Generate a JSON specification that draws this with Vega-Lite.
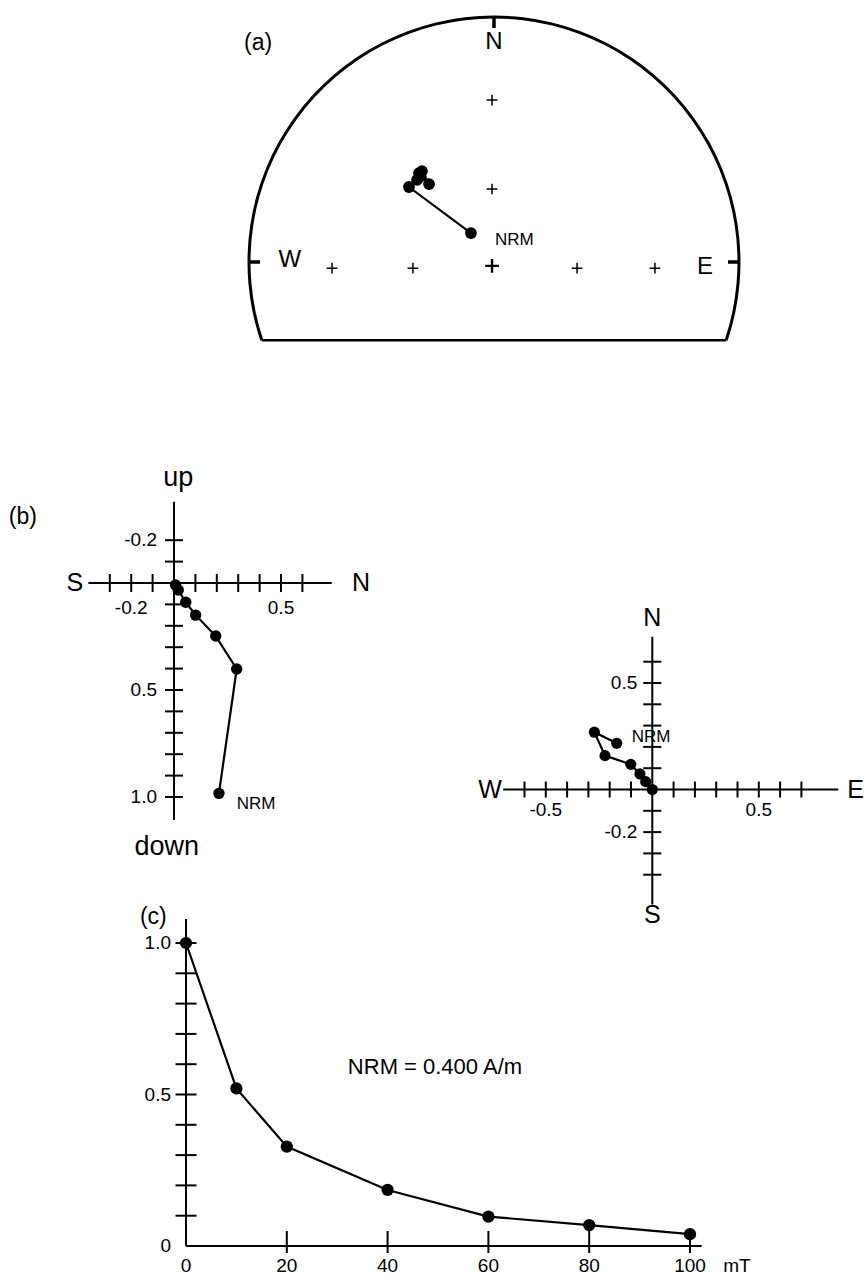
{
  "$schema": "https://vega.github.io/schema/vega-lite/v6.json",
  "width": 866,
  "height": 1277,
  "autosize": {"type": "fit", "contains": "padding"},
  "padding": 0,
  "background": "white",
  "config": {
    "view": {"stroke": null},
    "text": {"font": "Liberation Sans", "color": "black", "baseline": "middle"},
    "line": {"color": "black", "strokeWidth": 2.2},
    "rule": {"color": "black", "strokeWidth": 2}
  },
  "datasets": {
    "stereo_circle": [{"x": 0, "y": 0}],
    "stereo_chord": [{"x": -0.948, "y": -0.319, "x_end": 0.948, "y_end": -0.319}],
    "stereo_marks": [
      {"x": 0, "y": 1.0, "x_end": 0, "y_end": 0.955},
      {"x": -1.0, "y": 0, "x_end": -0.955, "y_end": 0},
      {"x": 1.0, "y": 0, "x_end": 0.955, "y_end": 0}
    ],
    "stereo_grid": [
      {"x": -0.008, "y": 0.661},
      {"x": -0.008, "y": 0.298},
      {"x": -0.661, "y": -0.025},
      {"x": -0.331, "y": -0.025},
      {"x": 0.339, "y": -0.025},
      {"x": 0.657, "y": -0.025}
    ],
    "stereo_centre": [{"x": -0.008, "y": -0.016}],
    "stereo_path": [
      {"step": 0, "x": -0.094, "y": 0.118},
      {"step": 10, "x": -0.347, "y": 0.306},
      {"step": 20, "x": -0.314, "y": 0.335},
      {"step": 40, "x": -0.306, "y": 0.363},
      {"step": 60, "x": -0.294, "y": 0.371},
      {"step": 80, "x": -0.265, "y": 0.318},
      {"step": 100, "x": -0.300, "y": 0.350}
    ],
    "stereo_dirs": [
      {"x": 0, "y": 0.896, "label": "N"},
      {"x": -0.833, "y": 0.008, "label": "W"},
      {"x": 0.861, "y": -0.019, "label": "E"}
    ],
    "stereo_tag": [{"x": -0.963, "y": 0.893, "label": "(a)"}],
    "stereo_nrm": [{"x": 0.004, "y": 0.091, "label": "NRM"}],

    "vert_axes": [
      {"north": -0.400, "down": 0, "north_end": 0.737, "down_end": 0},
      {"north": 0, "down": -0.380, "north_end": 0, "down_end": 1.107}
    ],
    "vert_ticks_n": [
      {"north": -0.3, "down": 0}, {"north": -0.2, "down": 0}, {"north": -0.1, "down": 0},
      {"north": 0.1, "down": 0}, {"north": 0.2, "down": 0}, {"north": 0.3, "down": 0},
      {"north": 0.4, "down": 0}, {"north": 0.5, "down": 0}, {"north": 0.6, "down": 0}
    ],
    "vert_ticks_d": [
      {"north": 0, "down": -0.2}, {"north": 0, "down": -0.1}, {"north": 0, "down": 0.1},
      {"north": 0, "down": 0.2}, {"north": 0, "down": 0.3}, {"north": 0, "down": 0.4},
      {"north": 0, "down": 0.5}, {"north": 0, "down": 0.6}, {"north": 0, "down": 0.7},
      {"north": 0, "down": 0.8}, {"north": 0, "down": 0.9}, {"north": 0, "down": 1.0}
    ],
    "vert_nlabels": [
      {"north": -0.2, "down": 0, "label": "-0.2"},
      {"north": 0.5, "down": 0, "label": "0.5"}
    ],
    "vert_dlabels": [
      {"north": 0, "down": -0.2, "label": "-0.2"},
      {"north": 0, "down": 0.5, "label": "0.5"},
      {"north": 0, "down": 1.0, "label": "1.0"}
    ],
    "vert_dirs": [
      {"north": -0.463, "down": 0, "label": "S"},
      {"north": 0.874, "down": 0, "label": "N"}
    ],
    "vert_updown": [
      {"north": 0.020, "down": -0.489, "label": "up"},
      {"north": -0.034, "down": 1.232, "label": "down"}
    ],
    "vert_tag": [{"north": -0.706, "down": -0.308, "label": "(b)"}],
    "vert_nrm": [{"north": 0.293, "down": 1.033, "label": "NRM"}],
    "vert_path": [
      {"step": 0, "north": 0.210, "down": 0.983},
      {"step": 10, "north": 0.293, "down": 0.402},
      {"step": 20, "north": 0.195, "down": 0.248},
      {"step": 40, "north": 0.101, "down": 0.150},
      {"step": 60, "north": 0.055, "down": 0.090},
      {"step": 80, "north": 0.020, "down": 0.033},
      {"step": 100, "north": 0.007, "down": 0.009}
    ],

    "horiz_axes": [
      {"east": -0.700, "north": 0, "east_end": 0.873, "north_end": 0},
      {"east": 0, "north": 0.717, "east_end": 0, "north_end": -0.540}
    ],
    "horiz_ticks_e": [
      {"east": -0.6, "north": 0}, {"east": -0.5, "north": 0}, {"east": -0.4, "north": 0},
      {"east": -0.3, "north": 0}, {"east": -0.2, "north": 0}, {"east": -0.1, "north": 0},
      {"east": 0.1, "north": 0}, {"east": 0.2, "north": 0}, {"east": 0.3, "north": 0},
      {"east": 0.4, "north": 0}, {"east": 0.5, "north": 0}, {"east": 0.6, "north": 0},
      {"east": 0.7, "north": 0}
    ],
    "horiz_ticks_n": [
      {"east": 0, "north": -0.4}, {"east": 0, "north": -0.3}, {"east": 0, "north": -0.2},
      {"east": 0, "north": -0.1}, {"east": 0, "north": 0.1}, {"east": 0, "north": 0.2},
      {"east": 0, "north": 0.3}, {"east": 0, "north": 0.4}, {"east": 0, "north": 0.5},
      {"east": 0, "north": 0.6}
    ],
    "horiz_elabels": [
      {"east": -0.5, "north": 0, "label": "-0.5"},
      {"east": 0.5, "north": 0, "label": "0.5"}
    ],
    "horiz_nlabels": [
      {"east": 0, "north": 0.5, "label": "0.5"},
      {"east": 0, "north": -0.2, "label": "-0.2"}
    ],
    "horiz_dirs": [
      {"east": -0.762, "north": 0, "label": "W"},
      {"east": 0.955, "north": 0, "label": "E"},
      {"east": 0, "north": 0.804, "label": "N"},
      {"east": 0, "north": -0.589, "label": "S"}
    ],
    "horiz_nrm": [{"east": -0.097, "north": 0.248, "label": "NRM"}],
    "horiz_path": [
      {"step": 0, "east": -0.167, "north": 0.217},
      {"step": 10, "east": -0.272, "north": 0.269},
      {"step": 20, "east": -0.222, "north": 0.159},
      {"step": 40, "east": -0.101, "north": 0.118},
      {"step": 60, "east": -0.058, "north": 0.073},
      {"step": 80, "east": -0.031, "north": 0.037},
      {"step": 100, "east": 0.0, "north": 0.0}
    ],

    "demag_axes": [
      {"field_mT": 0, "intensity": 0, "field_end": 102.3, "intensity_end": 0},
      {"field_mT": 0, "intensity": 0, "field_end": 0, "intensity_end": 1.079}
    ],
    "demag_yticks": [
      {"field_mT": 0, "intensity": 0.1}, {"field_mT": 0, "intensity": 0.2},
      {"field_mT": 0, "intensity": 0.3}, {"field_mT": 0, "intensity": 0.4},
      {"field_mT": 0, "intensity": 0.5}, {"field_mT": 0, "intensity": 0.6},
      {"field_mT": 0, "intensity": 0.7}, {"field_mT": 0, "intensity": 0.8},
      {"field_mT": 0, "intensity": 0.9}, {"field_mT": 0, "intensity": 1.0}
    ],
    "demag_xticks": [
      {"field_mT": 20, "intensity": 0}, {"field_mT": 40, "intensity": 0},
      {"field_mT": 60, "intensity": 0}, {"field_mT": 80, "intensity": 0},
      {"field_mT": 100, "intensity": 0}
    ],
    "demag_ylabels": [
      {"field_mT": 0, "intensity": 1.0, "label": "1.0"},
      {"field_mT": 0, "intensity": 0.5, "label": "0.5"},
      {"field_mT": 0, "intensity": 0, "label": "0"}
    ],
    "demag_xlabels": [
      {"field_mT": 0, "intensity": 0, "label": "0"},
      {"field_mT": 20, "intensity": 0, "label": "20"},
      {"field_mT": 40, "intensity": 0, "label": "40"},
      {"field_mT": 60, "intensity": 0, "label": "60"},
      {"field_mT": 80, "intensity": 0, "label": "80"},
      {"field_mT": 100, "intensity": 0, "label": "100"},
      {"field_mT": 109.3, "intensity": 0, "label": "mT"}
    ],
    "demag_tag": [{"field_mT": -6.49, "intensity": 1.087, "label": "(c)"}],
    "demag_note": [{"field_mT": 49.4, "intensity": 0.592, "label": "NRM = 0.400 A/m"}],
    "demag": [
      {"field_mT": 0, "intensity": 1.0},
      {"field_mT": 10, "intensity": 0.520},
      {"field_mT": 20, "intensity": 0.328},
      {"field_mT": 40, "intensity": 0.185},
      {"field_mT": 60, "intensity": 0.097},
      {"field_mT": 80, "intensity": 0.069},
      {"field_mT": 100, "intensity": 0.039}
    ]
  },
  "resolve": {"scale": {"x": "independent", "y": "independent"}},
  "layer": [
    {
      "encoding": {
        "x": {"field": "x", "type": "quantitative", "scale": {"domain": [-2.0163, 1.5184], "nice": false, "zero": false}, "axis": null},
        "y": {"field": "y", "type": "quantitative", "scale": {"domain": [-4.1429, 1.0694], "nice": false, "zero": false}, "axis": null}
      },
      "layer": [
        {
          "data": {"name": "stereo_circle"},
          "mark": {"type": "arc", "theta": -1.8956, "theta2": 1.8956, "radius": 246.5, "radius2": 243.5, "fill": "black", "stroke": null}
        },
        {
          "data": {"name": "stereo_chord"},
          "mark": {"type": "rule", "strokeWidth": 2.5},
          "encoding": {"x2": {"field": "x_end"}, "y2": {"field": "y_end"}}
        },
        {
          "data": {"name": "stereo_marks"},
          "mark": {"type": "rule", "strokeWidth": 3.5},
          "encoding": {"x2": {"field": "x_end"}, "y2": {"field": "y_end"}}
        },
        {
          "data": {"name": "stereo_grid"},
          "mark": {"type": "point", "shape": "M-1,0H1M0,-1V1", "filled": false, "stroke": "black", "strokeWidth": 1.5, "size": 115, "opacity": 1}
        },
        {
          "data": {"name": "stereo_centre"},
          "mark": {"type": "point", "shape": "M-1,0H1M0,-1V1", "filled": false, "stroke": "black", "strokeWidth": 2.4, "size": 190, "opacity": 1}
        },
        {
          "data": {"name": "stereo_path"},
          "mark": {"type": "line", "strokeWidth": 2.2},
          "encoding": {"order": {"field": "step", "type": "quantitative"}}
        },
        {
          "data": {"name": "stereo_path"},
          "mark": {"type": "point", "filled": true, "color": "black", "size": 140, "opacity": 1}
        },
        {
          "data": {"name": "stereo_dirs"},
          "mark": {"type": "text", "fontSize": 24, "align": "center"},
          "encoding": {"text": {"field": "label"}}
        },
        {
          "data": {"name": "stereo_tag"},
          "mark": {"type": "text", "fontSize": 23, "align": "center"},
          "encoding": {"text": {"field": "label"}}
        },
        {
          "data": {"name": "stereo_nrm"},
          "mark": {"type": "text", "fontSize": 17, "align": "left"},
          "encoding": {"text": {"field": "label"}}
        }
      ]
    },
    {
      "encoding": {
        "x": {"field": "north", "type": "quantitative", "scale": {"domain": [-0.8131, 3.2336], "nice": false, "zero": false}, "axis": null},
        "y": {"field": "down", "type": "quantitative", "scale": {"domain": [-2.7243, 3.2430], "nice": false, "zero": false, "reverse": true}, "axis": null}
      },
      "layer": [
        {
          "data": {"name": "vert_axes"},
          "mark": {"type": "rule", "strokeWidth": 2},
          "encoding": {"x2": {"field": "north_end"}, "y2": {"field": "down_end"}}
        },
        {
          "data": {"name": "vert_ticks_n"},
          "mark": {"type": "tick", "orient": "vertical", "size": 18, "thickness": 2, "color": "black", "opacity": 1}
        },
        {
          "data": {"name": "vert_ticks_d"},
          "mark": {"type": "tick", "orient": "horizontal", "size": 18, "thickness": 2, "color": "black", "opacity": 1}
        },
        {
          "data": {"name": "vert_nlabels"},
          "mark": {"type": "text", "fontSize": 19, "align": "center", "dy": 25},
          "encoding": {"text": {"field": "label"}}
        },
        {
          "data": {"name": "vert_dlabels"},
          "mark": {"type": "text", "fontSize": 19, "align": "right", "dx": -17},
          "encoding": {"text": {"field": "label"}}
        },
        {
          "data": {"name": "vert_dirs"},
          "mark": {"type": "text", "fontSize": 25, "align": "center"},
          "encoding": {"text": {"field": "label"}}
        },
        {
          "data": {"name": "vert_updown"},
          "mark": {"type": "text", "fontSize": 27, "align": "center"},
          "encoding": {"text": {"field": "label"}}
        },
        {
          "data": {"name": "vert_tag"},
          "mark": {"type": "text", "fontSize": 23, "align": "center"},
          "encoding": {"text": {"field": "label"}}
        },
        {
          "data": {"name": "vert_path"},
          "mark": {"type": "line", "strokeWidth": 2.2},
          "encoding": {"order": {"field": "step", "type": "quantitative"}}
        },
        {
          "data": {"name": "vert_path"},
          "mark": {"type": "point", "filled": true, "color": "black", "size": 130, "opacity": 1}
        },
        {
          "data": {"name": "vert_nrm"},
          "mark": {"type": "text", "fontSize": 17, "align": "left"},
          "encoding": {"text": {"field": "label"}}
        }
      ]
    },
    {
      "encoding": {
        "x": {"field": "east", "type": "quantitative", "scale": {"domain": [-3.0624, 1.0033], "nice": false, "zero": false}, "axis": null},
        "y": {"field": "north", "type": "quantitative", "scale": {"domain": [-2.2887, 3.7066], "nice": false, "zero": false}, "axis": null}
      },
      "layer": [
        {
          "data": {"name": "horiz_axes"},
          "mark": {"type": "rule", "strokeWidth": 2},
          "encoding": {"x2": {"field": "east_end"}, "y2": {"field": "north_end"}}
        },
        {
          "data": {"name": "horiz_ticks_e"},
          "mark": {"type": "tick", "orient": "vertical", "size": 16, "thickness": 2, "color": "black", "opacity": 1}
        },
        {
          "data": {"name": "horiz_ticks_n"},
          "mark": {"type": "tick", "orient": "horizontal", "size": 18, "thickness": 2, "color": "black", "opacity": 1}
        },
        {
          "data": {"name": "horiz_elabels"},
          "mark": {"type": "text", "fontSize": 19, "align": "center", "dy": 20},
          "encoding": {"text": {"field": "label"}}
        },
        {
          "data": {"name": "horiz_nlabels"},
          "mark": {"type": "text", "fontSize": 19, "align": "right", "dx": -15},
          "encoding": {"text": {"field": "label"}}
        },
        {
          "data": {"name": "horiz_dirs"},
          "mark": {"type": "text", "fontSize": 25, "align": "center"},
          "encoding": {"text": {"field": "label"}}
        },
        {
          "data": {"name": "horiz_path"},
          "mark": {"type": "line", "strokeWidth": 2.2},
          "encoding": {"order": {"field": "step", "type": "quantitative"}}
        },
        {
          "data": {"name": "horiz_path"},
          "mark": {"type": "point", "filled": true, "color": "black", "size": 125, "opacity": 1}
        },
        {
          "data": {"name": "horiz_nrm"},
          "mark": {"type": "text", "fontSize": 17, "align": "left"},
          "encoding": {"text": {"field": "label"}}
        }
      ]
    },
    {
      "encoding": {
        "x": {"field": "field_mT", "type": "quantitative", "scale": {"domain": [-36.905, 134.921], "nice": false, "zero": false}, "axis": null},
        "y": {"field": "intensity", "type": "quantitative", "scale": {"domain": [-0.10231, 4.11221], "nice": false, "zero": false}, "axis": null}
      },
      "layer": [
        {
          "data": {"name": "demag_axes"},
          "mark": {"type": "rule", "strokeWidth": 2},
          "encoding": {"x2": {"field": "field_end"}, "y2": {"field": "intensity_end"}}
        },
        {
          "data": {"name": "demag_yticks"},
          "mark": {"type": "tick", "orient": "horizontal", "size": 21, "thickness": 2, "color": "black", "opacity": 1}
        },
        {
          "data": {"name": "demag_xticks"},
          "mark": {"type": "tick", "orient": "vertical", "size": 22, "thickness": 2, "yOffset": -4, "color": "black", "opacity": 1}
        },
        {
          "data": {"name": "demag_ylabels"},
          "mark": {"type": "text", "fontSize": 19, "align": "right", "dx": -15},
          "encoding": {"text": {"field": "label"}}
        },
        {
          "data": {"name": "demag_xlabels"},
          "mark": {"type": "text", "fontSize": 19, "align": "center", "dy": 20},
          "encoding": {"text": {"field": "label"}}
        },
        {
          "data": {"name": "demag_tag"},
          "mark": {"type": "text", "fontSize": 23, "align": "center"},
          "encoding": {"text": {"field": "label"}}
        },
        {
          "data": {"name": "demag_note"},
          "mark": {"type": "text", "fontSize": 22, "align": "center"},
          "encoding": {"text": {"field": "label"}}
        },
        {
          "data": {"name": "demag"},
          "mark": {"type": "line", "strokeWidth": 2.2},
          "encoding": {"order": {"field": "field_mT", "type": "quantitative"}}
        },
        {
          "data": {"name": "demag"},
          "mark": {"type": "point", "filled": true, "color": "black", "size": 150, "opacity": 1}
        }
      ]
    }
  ]
}
